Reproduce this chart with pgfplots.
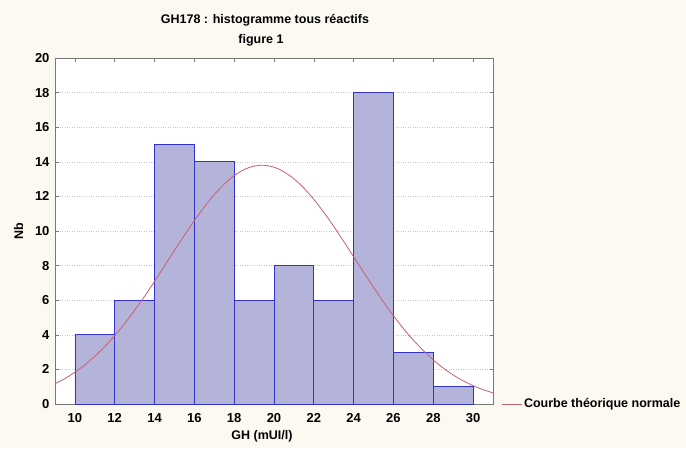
\documentclass[border=0pt]{standalone}
\usepackage{pgfplots}
\pgfplotsset{compat=1.18}
\usepackage{fontspec}
\setmainfont{Liberation Sans}
\definecolor{bgcream}{RGB}{252,250,240}
\definecolor{barfill}{RGB}{180,180,218}
\definecolor{barline}{RGB}{50,50,205}
\definecolor{curve}{RGB}{200,95,115}
\definecolor{axgray}{RGB}{120,120,120}
\begin{document}
\begin{tikzpicture}[x=1pt,y=1pt]
\fill[bgcream] (0,0) rectangle (686,448);
\useasboundingbox (0,0) rectangle (686,448);
\node[font=\fontsize{12.5}{14}\selectfont\bfseries] at (265,428) {GH178 : histogramme tous réactifs};
\node[font=\fontsize{12.5}{14}\selectfont\bfseries] at (261,408) {figure 1};
\begin{axis}[
  at={(55pt,44pt)}, anchor=south west,
  scale only axis, width=438pt, height=346pt,
  xmin=9, xmax=31, ymin=0, ymax=20,
  xtick={10,12,...,30}, ytick={0,2,...,20},
  axis background/.style={fill=white},
  axis line style={axgray, line width=0.8pt},
  tick style={axgray, line width=0.6pt},
  major tick length=3.5pt,
  tick align=inside,
  ymajorgrids, grid style={dotted, gray!45},
  ticklabel style={font=\fontsize{13}{15}\selectfont\bfseries},
  xticklabel style={yshift=-6pt},
  yticklabel style={xshift=-2pt},
  /pgf/number format/assume math mode=true,
  xlabel={GH (mUI/l)}, ylabel={Nb},
  xlabel style={font=\fontsize{12.5}{14}\selectfont\bfseries, xshift=-12pt, yshift=-1pt},
  ylabel style={font=\fontsize{12.5}{14}\selectfont\bfseries, yshift=5pt},
  legend style={at={(1.0,0)}, anchor=west, draw=none, fill=none,
    font=\fontsize{12.5}{14}\selectfont\bfseries, xshift=7pt, inner sep=1pt},
  legend cell align=left,
  legend image code/.code={\draw[#1] (0pt,0pt) -- (20pt,0pt);},
]
\addplot[ybar interval, fill=barfill, draw=barline, line width=0.8pt, forget plot]
  coordinates {(10,4) (12,6) (14,15) (16,14) (18,6) (20,8) (22,6) (24,18) (26,3) (28,1) (30,1)};
\addplot[curve, line width=0.8pt, smooth] coordinates {
(9,1.17) (9.5,1.47) (10,1.84) (10.5,2.26) (11,2.76) (11.5,3.32) (12,3.95) (12.5,4.65)
(13,5.42) (13.5,6.23) (14,7.09) (14.5,7.98) (15,8.87) (15.5,9.75) (16,10.60) (16.5,11.39)
(17,12.10) (17.5,12.71) (18,13.20) (18.5,13.55) (19,13.75) (19.5,13.80) (20,13.69) (20.5,13.42)
(21,13.02) (21.5,12.48) (22,11.83) (22.5,11.08) (23,10.27) (23.5,9.40) (24,8.51) (24.5,7.62)
(25,6.74) (25.5,5.90) (26,5.10) (26.5,4.36) (27,3.69) (27.5,3.09) (28,2.55) (28.5,2.08)
(29,1.68) (29.5,1.34) (30,1.06) (30.5,0.83) (31,0.64)};
\addlegendentry{Courbe théorique normale}
\end{axis}
\end{tikzpicture}
\end{document}
